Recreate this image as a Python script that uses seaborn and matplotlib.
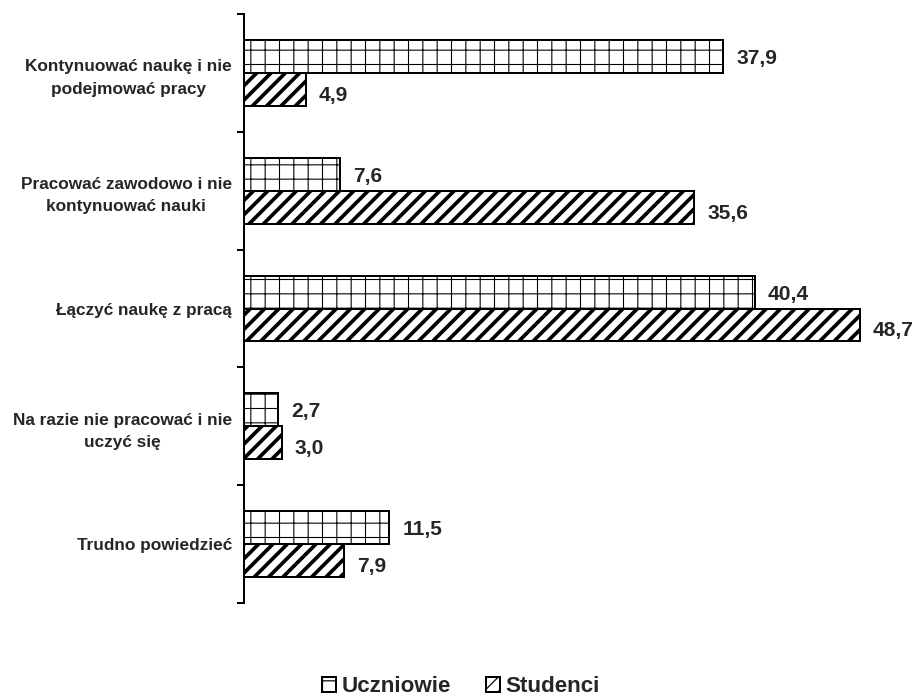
import matplotlib
matplotlib.use("Agg")
import matplotlib.pyplot as plt
from matplotlib.patches import Patch
import numpy as np
import pandas as pd
import seaborn as sns

categories = [
    "Kontynuować naukę i nie\npodejmować pracy",
    "Pracować zawodowo i nie\nkontynuować nauki",
    "Łączyć naukę z pracą",
    "Na razie nie pracować i nie\nuczyć się",
    "Trudno powiedzieć",
]
uczniowie = [37.9, 7.6, 40.4, 2.7, 11.5]
studenci = [4.9, 35.6, 48.7, 3.0, 7.9]
groups = ["Uczniowie", "Studenci"]
hatches = {"Uczniowie": "+", "Studenci": "//"}

DPI = 86
W, H = 917, 698


def pt(px):
    """pixel size -> points at the output resolution"""
    return px * 72.0 / DPI


hatch_widths = {"Uczniowie": pt(1.1), "Studenci": pt(3.7)}
label_dy = {"Uczniowie": -2, "Studenci": -6}

df = pd.DataFrame({
    "kategoria": categories * 2,
    "wartosc": uczniowie + studenci,
    "grupa": [groups[0]] * len(categories) + [groups[1]] * len(categories),
})

sns.set_theme(style="white")
plt.rcParams["font.family"] = ["Liberation Sans", "DejaVu Sans"]
plt.rcParams["font.weight"] = "bold"

fig = plt.figure(figsize=(W / DPI, H / DPI), dpi=DPI)
ax = fig.add_axes([244 / W, 1 - 603 / H, (914 - 244) / W, (603 - 14) / H])

sns.barplot(
    data=df, y="kategoria", x="wartosc", hue="grupa", hue_order=groups,
    order=categories, orient="h", width=0.56, palette=["white", "white"],
    edgecolor="black", linewidth=pt(2), legend=False, ax=ax, saturation=1,
)

n = len(categories)
values = uczniowie + studenci
for i, bar in enumerate(ax.patches[: 2 * n]):
    g = groups[i // n]
    bar.set_hatch(hatches[g])
    if hasattr(bar, "set_hatch_linewidth"):
        bar.set_hatch_linewidth(hatch_widths[g])
    bar.set_facecolor("white")
    bar.set_edgecolor("black")
    # value label to the right of the bar
    y = bar.get_y() + bar.get_height() / 2
    ax.annotate(f"{values[i]:.1f}".replace(".", ","), xy=(bar.get_width(), y),
                xytext=(pt(13), pt(label_dy[g])), textcoords="offset points",
                ha="left", va="center", fontsize=pt(21), fontweight="bold")

ax.set_xlim(0, 53)
ax.set_ylim(n - 0.5, -0.5)
ax.set_xlabel("")
ax.set_ylabel("")
for s in ["top", "right", "bottom"]:
    ax.spines[s].set_visible(False)
ax.spines["left"].set_linewidth(pt(2))
ax.spines["left"].set_color("black")
ax.set_xticks([])

ax.set_yticks(range(n))
ax.set_yticklabels(categories, fontsize=pt(17.2), fontweight="bold",
                   multialignment="center", linespacing=1.6)
ax.tick_params(axis="y", which="major", length=0, pad=pt(12))
ax.set_yticks(np.arange(-0.5, n, 1.0), minor=True)
ax.tick_params(axis="y", which="minor", length=pt(7), width=pt(2), color="black", left=True)

leg_handles = []
for g in groups:
    p = Patch(facecolor="white", edgecolor="black", hatch=hatches[g], linewidth=pt(2), label=g)
    if hasattr(p, "set_hatch_linewidth"):
        p.set_hatch_linewidth(pt(1.5) if g == "Uczniowie" else pt(3))
    leg_handles.append(p)

fig.legend(handles=leg_handles, loc="lower center", bbox_to_anchor=(461 / W, -0.028),
           ncol=2, frameon=False, prop={"weight": "bold", "size": pt(22.4)},
           handlelength=0.62, handleheight=0.62, handletextpad=0.22, columnspacing=1.6)

fig.savefig("out.png", dpi=DPI)
